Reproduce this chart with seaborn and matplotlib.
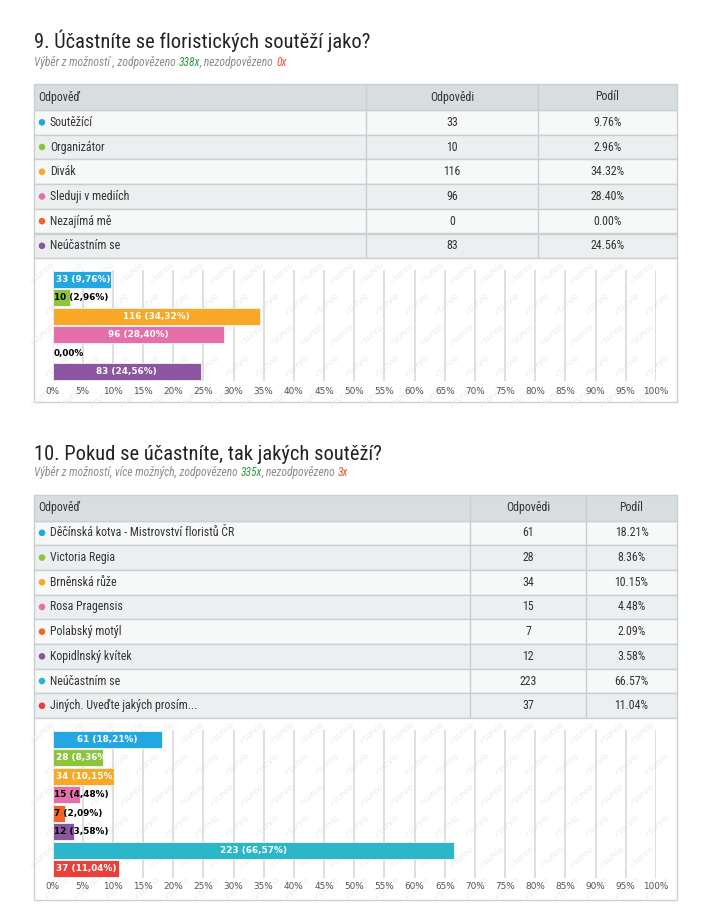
import matplotlib
matplotlib.use("Agg")
import matplotlib.pyplot as plt
import seaborn as sns
import numpy as np
import pandas as pd
from matplotlib import font_manager
from matplotlib.patches import Rectangle, Circle

# 数据：第9题
q9_title = "9. Účastníte se floristických soutěží jako?"
q9_sub = [("Výběr z možností , zodpovězeno ", "#8a8a8a"), ("338x", "#2e9b3e"),
          (", nezodpovězeno ", "#8a8a8a"), ("0x", "#f0522e")]
q9_labels = ["Soutěžící", "Organizátor", "Divák", "Sleduji v mediích", "Nezajímá mě", "Neúčastním se"]
q9_counts = [33, 10, 116, 96, 0, 83]
q9_share = [9.76, 2.96, 34.32, 28.40, 0.00, 24.56]
q9_colors = ["#22a7e0", "#8cc43f", "#f8a826", "#e56fab", "#ef6527", "#8b55a0"]

# 数据：第10题
q10_title = "10. Pokud se účastníte, tak jakých soutěží?"
q10_sub = [("Výběr z možností, více možných, zodpovězeno ", "#8a8a8a"), ("335x", "#2e9b3e"),
           (", nezodpovězeno ", "#8a8a8a"), ("3x", "#f0522e")]
q10_labels = ["Děčínská kotva - Mistrovství floristů ČR", "Victoria Regia", "Brněnská růže",
              "Rosa Pragensis", "Polabský motýl", "Kopidlnský kvítek", "Neúčastním se",
              "Jiných. Uveďte jakých prosím..."]
q10_counts = [61, 28, 34, 15, 7, 12, 223, 37]
q10_share = [18.21, 8.36, 10.15, 4.48, 2.09, 3.58, 66.57, 11.04]
q10_colors = ["#22a7e0", "#8cc43f", "#f8a826", "#e56fab", "#ef6527", "#8b55a0", "#2bb6c9", "#e9413a"]

tick_vals = list(range(0, 101, 5))

# 字体选择
names = {f.name for f in font_manager.fontManager.ttflist}
narrow = "DejaVu Sans"
for cand in ["Liberation Sans Narrow", "Roboto Condensed", "Open Sans Condensed", "Roboto", "Noto Sans"]:
    if cand in names:
        narrow = cand
        break
label_font = "DejaVu Sans Condensed" if "DejaVu Sans Condensed" in names else "DejaVu Sans"
label_size = 6.9 if label_font == "DejaVu Sans Condensed" else 6.4

sns.set_theme(style="white")
plt.rcParams["font.family"] = [narrow, "DejaVu Sans"]

W, H = 710, 918
fig = plt.figure(figsize=(W / 100, H / 100), dpi=100)
fig.patch.set_facecolor("white")
bg = fig.add_axes([0, 0, 1, 1])
bg.set_xlim(0, W)
bg.set_ylim(H, 0)
bg.axis("off")
renderer = fig.canvas.get_renderer()


def draw_parts(x, y, parts, size):
    for txt, col in parts:
        t = bg.text(x, y, txt, color=col, fontsize=size, style="italic", va="baseline", ha="left")
        bb = t.get_window_extent(renderer=renderer)
        x = bg.transData.inverted().transform((bb.x1, bb.y0))[0]


def draw_section(title, sub, title_y, sub_y, top, cols, labels, counts, share, colors,
                 box_bottom, bar_c0, spacing, tick_y):
    bg.text(34, title_y, title, fontsize=14.8, color="#222222", va="baseline")
    draw_parts(34, sub_y, sub, 8.3)
    x0, xc1, xc2, x3 = cols
    hh, rh = 26, 24.7
    border = "#c9d0d4"
    # 表头
    bg.add_patch(Rectangle((x0, top), x3 - x0, hh, facecolor="#d8dde0", edgecolor=border, lw=1))
    bg.text(x0 + 4, top + hh / 2, "Odpověď", fontsize=8.6, color="#333333", va="center")
    bg.text((xc1 + xc2) / 2, top + hh / 2, "Odpovědi", fontsize=8.6, color="#333333", va="center", ha="center")
    bg.text((xc2 + x3) / 2, top + hh / 2, "Podíl", fontsize=8.6, color="#333333", va="center", ha="center")
    for xc in (xc1, xc2):
        bg.plot([xc, xc], [top, top + hh + rh * len(labels)], color=border, lw=1)
    for i, (lab, c, s, col) in enumerate(zip(labels, counts, share, colors)):
        y = top + hh + i * rh
        fc = "#f7f8f8" if i % 2 == 0 else "#eceff0"
        bg.add_patch(Rectangle((x0, y), x3 - x0, rh, facecolor=fc, edgecolor=border, lw=1, zorder=0))
        bg.add_patch(Circle((x0 + 8, y + rh / 2), 3.3, facecolor=col, edgecolor="none"))
        bg.text(x0 + 16, y + rh / 2, lab, fontsize=8.6, color="#333333", va="center")
        bg.text((xc1 + xc2) / 2, y + rh / 2, str(c), fontsize=8.6, color="#333333", va="center", ha="center")
        bg.text((xc2 + x3) / 2, y + rh / 2, f"{s:.2f}%", fontsize=8.6, color="#333333", va="center", ha="center")
    tb = top + hh + rh * len(labels)
    bg.add_patch(Rectangle((x0, tb), x3 - x0, box_bottom - tb, facecolor="white", edgecolor=border, lw=1, zorder=0))
    # 水印
    for yy in np.arange(tb + 14, box_bottom - 4, 31):
        off = 15 if int((yy - tb) / 31) % 2 else 0
        for xx in np.arange(x0 + 8 + off, x3 - 6, 30):
            bg.text(xx, yy, "✓survio", fontsize=5.5, color="#ebebeb", rotation=40,
                    ha="center", va="center", family="DejaVu Sans", zorder=1)
    # 条形图
    n = len(labels)
    left_px, right_px = 52.5, 656
    ax_top = bar_c0 - spacing / 2
    ax_bot = bar_c0 + spacing * (n - 0.5)
    ax = fig.add_axes([left_px / W, 1 - ax_bot / H, (right_px - left_px) / W, (ax_bot - ax_top) / H])
    df = pd.DataFrame({"label": labels, "pct": share, "count": counts})
    sns.barplot(data=df, x="pct", y="label", hue="label", palette=colors, orient="h",
                width=0.92, ax=ax, legend=False, edgecolor="#f4f4f4", linewidth=0.6, saturation=1)
    ax.set_facecolor("none")
    ax.set_xlim(0, 100)
    ax.set_ylim(n - 0.5, -0.5)
    ax.set_xticks(tick_vals)
    ax.set_xticklabels([f"{v}%" for v in tick_vals], fontsize=6.4, color="#555555", family="DejaVu Sans")
    ax.set_yticks([])
    ax.set_xlabel("")
    ax.set_ylabel("")
    ax.tick_params(axis="x", length=0, pad=tick_y - ax_bot - 4)
    ax.grid(axis="x", color="#d9d9d9", lw=1.2)
    ax.set_axisbelow(True)
    for sp in ax.spines.values():
        sp.set_visible(False)
    px_per = (right_px - left_px) / 100
    kw = dict(fontsize=label_size, fontweight="bold", va="center", family=label_font)
    for i, (c, s) in enumerate(zip(counts, share)):
        txt = f"{c} ({s:.2f}%)".replace(".", ",") if c > 0 else f"{s:.2f}%".replace(".", ",")
        bar_px = s * px_per
        t = ax.text(s / 2, i, txt, color="white", ha="center", **kw)
        need = t.get_window_extent(renderer=renderer).width + 8
        if bar_px >= need:
            continue
        t.remove()
        if bar_px > 40:
            ax.text(4 / px_per, i, txt, color="white", ha="left", **kw)
        else:
            ax.text(1.5 / px_per, i, txt, color="black", ha="left", **kw)
    return ax


draw_section(q9_title, q9_sub, 48, 66, 84, (34, 366, 538, 677), q9_labels, q9_counts, q9_share,
             q9_colors, 402, 279.5, 18.4, 389)
draw_section(q10_title, q10_sub, 460, 476, 494.5, (34, 470, 586, 677), q10_labels, q10_counts, q10_share,
             q10_colors, 900, 739.5, 18.43, 885)

fig.savefig("out.png", dpi=100, facecolor="white")
